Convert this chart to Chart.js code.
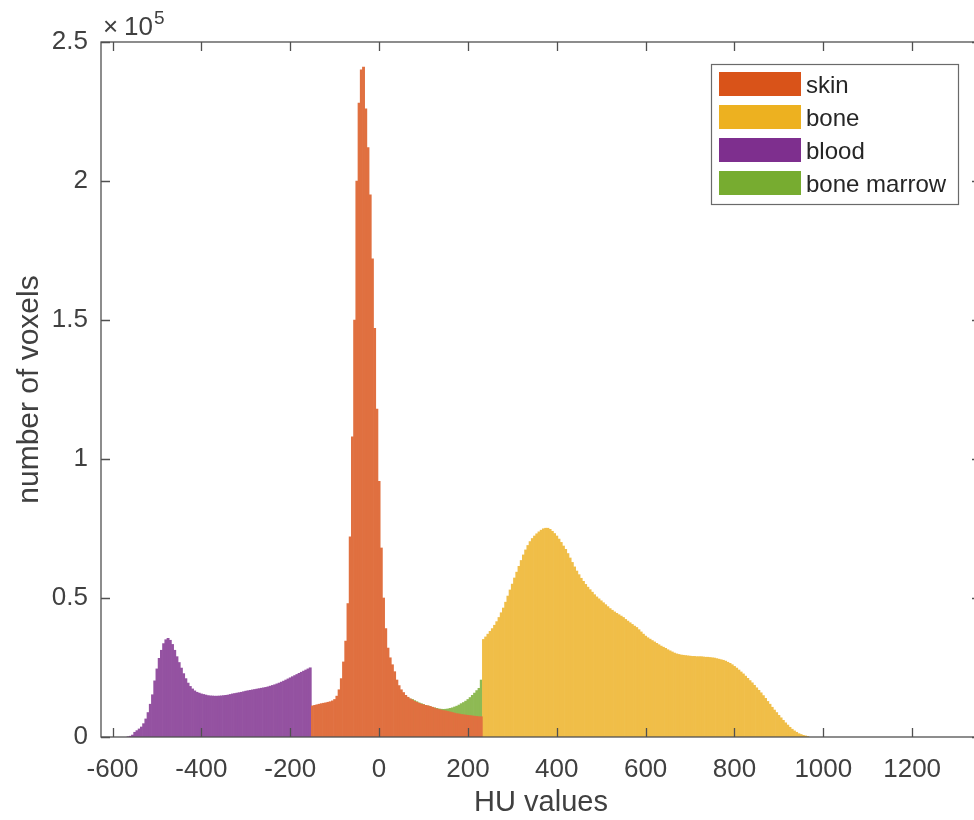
<!DOCTYPE html>
<html>
<head>
<meta charset="utf-8">
<title>HU histogram</title>
<script src="https://cdn.jsdelivr.net/npm/chart.js@4/dist/chart.umd.min.js"></script>
<style>
  html, body { margin: 0; padding: 0; background: #fff; overflow: hidden; }
  #wrap { width: 982px; height: 820px; position: relative; }
</style>
</head>
<body>
<div id="wrap"><canvas id="histChart"></canvas></div>
<script>
// bin width in HU, every series uses the same bins
const binWidth = 5;

// blood: counts per bin, first bin centred at -565 HU
const bloodStart = -565;
const bloodCounts = [
  100, 300, 700, 1700, 2300, 2900, 3600, 4800, 6500, 8800,
  11800, 15200, 20200, 24500, 28300, 31200, 33600, 35000, 35500, 34800,
  33300, 31200, 28900, 26800, 24800, 22800, 21000, 19400, 18200, 17300,
  16600, 16100, 15800, 15500, 15300, 15100, 14900, 14800, 14750, 14700,
  14700, 14750, 14800, 14900, 15000, 15100, 15300, 15500, 15650, 15800,
  15950, 16100, 16300, 16500, 16650, 16800, 16950, 17100, 17250, 17400,
  17550, 17700, 17850, 18050, 18300, 18550, 18800, 19100, 19400, 19750,
  20100, 20500, 20900, 21300, 21700, 22100, 22500, 22900, 23300, 23700,
  24100, 24500, 24900
];

// skin: first bin centred at -150 HU
const skinStart = -150;
const skinCounts = [
  11200, 11400, 11600, 11800, 12000, 12150, 12300, 12500, 12700, 13000,
  13500, 14700, 17000, 21000, 27000, 34500, 48000, 72000, 108000, 150000,
  200000, 228000, 240000, 241000, 226000, 212000, 195000, 172000, 147000, 118000,
  92000, 68000, 50000, 39000, 32000, 28500, 26000, 23500, 20500, 18500,
  17000, 16000, 15000, 14300, 13700, 13300, 12800, 12500, 12100, 11800,
  11600, 11400, 11200, 11000, 10700, 10400, 10100, 9900, 9700, 9500,
  9400, 9200, 9000, 8800, 8600, 8400, 8300, 8100, 8000, 7900,
  7800, 7700, 7600, 7500, 7400, 7300, 7300
];

// bone: first bin centred at 235 HU
const boneStart = 235;
const boneCounts = [
  35100, 36000, 37000, 38000, 39000, 40200, 41500, 43000, 44700, 46400,
  48500, 50700, 52900, 55000, 57200, 59300, 61400, 63500, 65500, 67300,
  68900, 70300, 71400, 72300, 73100, 73800, 74400, 74900, 75100, 75100,
  74700, 74000, 73200, 72300, 71200, 70000, 68700, 67500, 66000, 64400,
  62800, 61200, 59700, 58400, 57100, 56000, 54900, 53900, 53000, 52100,
  51200, 50400, 49700, 49000, 48300, 47600, 46900, 46200, 45600, 45000,
  44500, 44000, 43500, 43000, 42300, 41700, 41100, 40500, 39900, 39400,
  38600, 37800, 37000, 36300, 35700, 35200, 34700, 34200, 33700, 33200,
  32700, 32300, 31900, 31400, 31000, 30600, 30200, 29900, 29700, 29500,
  29400, 29300, 29200, 29100, 29000, 29000, 28900, 28900, 28900, 28800,
  28700, 28700, 28600, 28500, 28400, 28200, 28000, 27800, 27600, 27300,
  26900, 26500, 26000, 25400, 24800, 24100, 23400, 22700, 21900, 21100,
  20300, 19500, 18600, 17700, 16800, 15900, 14900, 13900, 12800, 11800,
  10700, 9700, 8800, 7800, 6900, 6000, 5100, 4300, 3500, 2800,
  2200, 1700, 1200, 900, 600, 400, 200
];

// bone marrow: first bin centred at 50 HU (mostly hidden behind skin)
const marrowStart = 50;
const marrowCounts = [
  15500, 15000, 14500, 14100, 13700, 13500, 13100, 12700, 12300, 12000,
  11700, 11400, 11200, 10900, 10700, 10500, 10300, 10100, 10000, 9950,
  10000, 10100, 10300, 10500, 10800, 11100, 11500, 12000, 12400, 12900,
  13500, 14200, 15000, 15800, 16700, 17500, 20500
];

const seriesNames = ['skin', 'bone', 'blood', 'bone marrow'];
const xTicks = [-600, -400, -200, 0, 200, 400, 600, 800, 1000, 1200];
const yTicks = [0, 50000, 100000, 150000, 200000, 250000];
const yTickLabels = ['0', '0.5', '1', '1.5', '2', '2.5'];

// colours: legend patches use the plain colours, bars the faded ones
const lineColors = ['#D95319', '#EDB120', '#7E2F8E', '#77AC30'];
const fillColors = ['rgb(224,112,64)', 'rgb(240,190,72)', 'rgb(148,82,161)', 'rgb(142,186,84)'];
const textColor = '#404040';
const fontFamily = '"Liberation Sans", Arial, Helvetica, sans-serif';
const tickLen = 9;

function toPoints(start, counts) {
  return counts.map((c, i) => ({ x: start + i * binWidth, y: c }));
}

const seriesData = [
  toPoints(skinStart, skinCounts),
  toPoints(boneStart, boneCounts),
  toPoints(bloodStart, bloodCounts),
  toPoints(marrowStart, marrowCounts)
];

// box, inward ticks, exponent and legend
const framePlugin = {
  id: 'frame',
  afterDraw(chart) {
    const { ctx, chartArea: a, scales: { x, y } } = chart;
    ctx.save();
    ctx.strokeStyle = '#505050';
    ctx.lineWidth = 1.3;
    ctx.strokeRect(a.left, a.top, a.right - a.left, a.bottom - a.top);
    ctx.beginPath();
    xTicks.forEach(v => {
      const px = Math.round(x.getPixelForValue(v)) + 0.5;
      ctx.moveTo(px, a.bottom); ctx.lineTo(px, a.bottom - tickLen);
      ctx.moveTo(px, a.top); ctx.lineTo(px, a.top + tickLen);
    });
    yTicks.forEach(v => {
      const py = Math.round(y.getPixelForValue(v)) + 0.5;
      ctx.moveTo(a.left, py); ctx.lineTo(a.left + tickLen, py);
      ctx.moveTo(a.right, py); ctx.lineTo(a.right - tickLen, py);
    });
    ctx.stroke();

    // x10^5 multiplier above the y axis
    ctx.fillStyle = textColor;
    ctx.textBaseline = 'alphabetic';
    ctx.textAlign = 'left';
    ctx.font = '26px ' + fontFamily;
    ctx.fillText('\u00D7', a.left + 2, 35);
    ctx.fillText('10', a.left + 23, 35);
    ctx.font = '19px ' + fontFamily;
    ctx.fillText('5', a.left + 53, 24);

    // legend box
    const lx = 711, ly = 64, lw = 247, lh = 140;
    ctx.fillStyle = '#fff';
    ctx.fillRect(lx, ly, lw, lh);
    ctx.strokeStyle = '#6a6a6a';
    ctx.lineWidth = 1.2;
    ctx.strokeRect(lx + 0.5, ly + 0.5, lw, lh);
    ctx.font = '24px ' + fontFamily;
    ctx.textBaseline = 'middle';
    chart.data.datasets.forEach((ds, i) => {
      const ry = ly + 8 + i * 33;
      ctx.fillStyle = lineColors[i];
      ctx.fillRect(lx + 8, ry, 82, 24);
      ctx.fillStyle = '#262626';
      ctx.fillText(ds.label, lx + 95, ry + 14);
    });
    ctx.restore();
  }
};

new Chart(document.getElementById('histChart'), {
  type: 'bar',
  data: {
    datasets: seriesNames.map((name, i) => ({
      label: name,
      data: seriesData[i],
      backgroundColor: fillColors[i],
      borderWidth: 0,
      grouped: false,
      barPercentage: 1,
      categoryPercentage: 1
    }))
  },
  options: {
    responsive: true,
    maintainAspectRatio: false,
    animation: false,
    layout: { padding: { top: 42, right: 1, left: 0, bottom: 0 } },
    plugins: {
      legend: { display: false },
      tooltip: { enabled: false }
    },
    scales: {
      x: {
        type: 'linear',
        offset: false,
        min: -626,
        max: 1355,
        grid: { display: false },
        border: { display: false },
        afterBuildTicks: s => { s.ticks = xTicks.map(v => ({ value: v })); },
        afterFit: s => { s.height = 83; },
        ticks: {
          color: textColor,
          font: { family: fontFamily, size: 26 },
          padding: 9,
          maxRotation: 0,
          autoSkip: false,
          callback: v => String(v)
        },
        title: {
          display: true,
          text: 'HU values',
          color: textColor,
          font: { family: fontFamily, size: 29 },
          padding: { top: 0, bottom: 0 }
        }
      },
      y: {
        min: 0,
        max: 250000,
        grid: { display: false },
        border: { display: false },
        afterBuildTicks: s => { s.ticks = yTicks.map(v => ({ value: v })); },
        afterFit: s => { s.width = 101; },
        ticks: {
          color: textColor,
          font: { family: fontFamily, size: 26 },
          padding: 5,
          callback: (v) => yTickLabels[yTicks.indexOf(v)]
        },
        title: {
          display: true,
          text: 'number of voxels',
          color: textColor,
          font: { family: fontFamily, size: 30 },
          padding: { top: 12, bottom: 0 }
        }
      }
    }
  },
  plugins: [framePlugin]
});
</script>
</body>
</html>
